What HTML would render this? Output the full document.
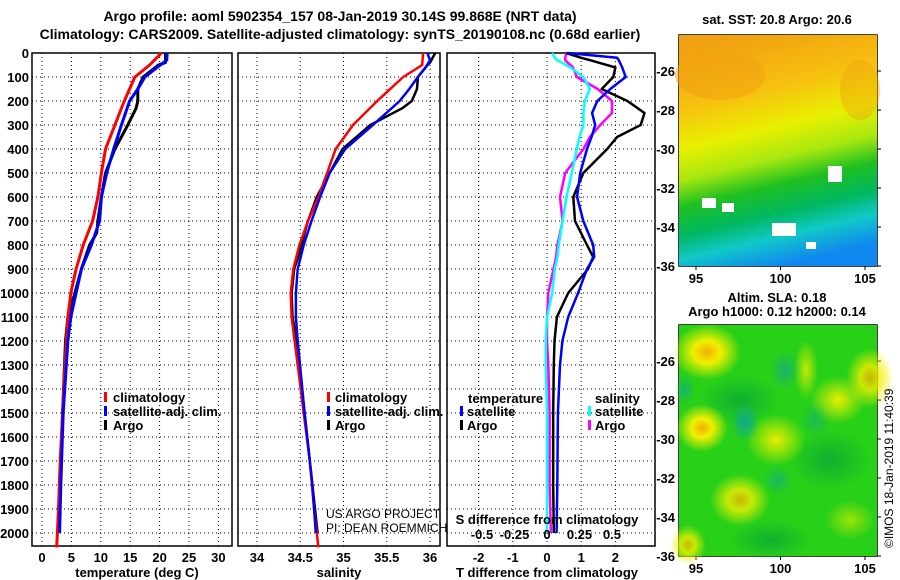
<!DOCTYPE html>
<html><head><meta charset="utf-8"><style>
html,body{margin:0;padding:0;background:#fff;}
svg{display:block;font-family:"Liberation Sans",sans-serif;}
.t{font-weight:bold;font-size:13px;fill:#000;}
.ti{font-weight:bold;font-size:14px;fill:#000;}
.g{stroke:#000;stroke-width:1;stroke-dasharray:1 3;fill:none;}
.fr{fill:none;stroke:#000;stroke-width:1.5;}
</style></head><body>
<svg id="chart" width="900" height="580" viewBox="0 0 900 580" xmlns="http://www.w3.org/2000/svg">
<defs>
<linearGradient id="sstg" x1="0.3" y1="0" x2="0.5" y2="1">
<stop offset="0" stop-color="#f0a010"/><stop offset="0.25" stop-color="#f8c010"/><stop offset="0.42" stop-color="#e8f000"/><stop offset="0.55" stop-color="#a8e810"/><stop offset="0.66" stop-color="#20c020"/><stop offset="0.78" stop-color="#00b860"/><stop offset="0.88" stop-color="#10c8c8"/><stop offset="1" stop-color="#1088f0"/>
</linearGradient>
<radialGradient id="yb"><stop offset="0" stop-color="#f0b000"/><stop offset="0.4" stop-color="#f0f000"/><stop offset="1" stop-color="#f0f000" stop-opacity="0"/></radialGradient>
<radialGradient id="yb2"><stop offset="0" stop-color="#e8f000"/><stop offset="1" stop-color="#e8f000" stop-opacity="0"/></radialGradient>
<radialGradient id="tb"><stop offset="0" stop-color="#10a890"/><stop offset="1" stop-color="#10a890" stop-opacity="0"/></radialGradient>
<radialGradient id="db"><stop offset="0" stop-color="#10b030"/><stop offset="1" stop-color="#10b030" stop-opacity="0"/></radialGradient>
</defs>
<text class="ti" x="340" y="21" text-anchor="middle">Argo profile: aoml 5902354_157 08-Jan-2019 30.14S 99.868E (NRT data)</text>
<text class="ti" x="340" y="39" text-anchor="middle">Climatology: CARS2009. Satellite-adjusted climatology: synTS_20190108.nc (0.68d earlier)</text>
<g id="grids"></g>
<g id="lines"></g>
<g id="labels"></g>
<g>
<rect x="104" y="392" width="3" height="10" fill="#f00"/><text class="t" x="113" y="402">climatology</text>
<rect x="104" y="406" width="3" height="10" fill="#00f"/><text class="t" x="113" y="416">satellite-adj. clim.</text>
<rect x="104" y="420" width="3" height="10" fill="#000"/><text class="t" x="113" y="430">Argo</text>
</g>
<g>
<rect x="327" y="392" width="3" height="10" fill="#f00"/><text class="t" x="335" y="402">climatology</text>
<rect x="327" y="406" width="3" height="10" fill="#00f"/><text class="t" x="335" y="416">satellite-adj. clim.</text>
<rect x="327" y="420" width="3" height="10" fill="#000"/><text class="t" x="335" y="430">Argo</text>
</g>
<text x="326" y="518" font-size="12" fill="#000">US ARGO PROJECT</text>
<text x="326" y="532" font-size="12" fill="#000">PI: DEAN ROEMMICH</text>
<g>
<text class="t" x="468" y="403">temperature</text>
<rect x="460" y="406" width="3" height="10" fill="#00f"/><text class="t" x="467" y="416">satellite</text>
<rect x="460" y="420" width="3" height="10" fill="#000"/><text class="t" x="467" y="430">Argo</text>
<text class="t" x="595" y="403">salinity</text>
<rect x="588" y="406" width="3" height="10" fill="#0ff"/><text class="t" x="595" y="416">satellite</text>
<rect x="588" y="420" width="3" height="10" fill="#f0f"/><text class="t" x="595" y="430">Argo</text>
</g>
<text class="t" x="547" y="524" text-anchor="middle">S difference from climatology</text>
<text class="t" x="777" y="24" text-anchor="middle">sat. SST: 20.8 Argo: 20.6</text>
<g>
<rect x="679" y="35" width="198" height="231" fill="url(#sstg)"/>
<ellipse cx="720" cy="75" rx="45" ry="25" fill="#f0a010" opacity="0.5"/>
<ellipse cx="860" cy="90" rx="20" ry="30" fill="#f0a010" opacity="0.4"/>
<rect x="702" y="198" width="14" height="10" fill="#fff"/><rect x="722" y="203" width="12" height="9" fill="#fff"/>
<rect x="772" y="223" width="24" height="13" fill="#fff"/><rect x="828" y="166" width="14" height="16" fill="#fff"/><rect x="806" y="242" width="10" height="7" fill="#fff"/>
</g>
<text class="t" x="777" y="302" text-anchor="middle">Altim. SLA: 0.18</text>
<text class="t" x="777" y="316" text-anchor="middle">Argo h1000: 0.12 h2000: 0.14</text>
<g>
<rect x="679" y="325" width="198" height="231" fill="#28d018"/>
<ellipse cx="740" cy="400" rx="40" ry="25" fill="url(#db)"/>
<ellipse cx="830" cy="460" rx="40" ry="30" fill="url(#db)"/>
<ellipse cx="770" cy="540" rx="40" ry="20" fill="url(#db)"/>
<ellipse cx="707" cy="352" rx="34" ry="28" fill="url(#yb)"/>
<ellipse cx="702" cy="428" rx="26" ry="24" fill="url(#yb)"/>
<ellipse cx="776" cy="440" rx="30" ry="26" fill="url(#yb2)"/>
<ellipse cx="740" cy="500" rx="30" ry="26" fill="url(#yb)" opacity="0.8"/>
<ellipse cx="838" cy="400" rx="28" ry="24" fill="url(#yb2)"/>
<ellipse cx="870" cy="378" rx="24" ry="30" fill="url(#yb)" opacity="0.8"/>
<ellipse cx="806" cy="370" rx="12" ry="30" fill="url(#yb2)" opacity="0.8"/>
<ellipse cx="688" cy="545" rx="18" ry="20" fill="url(#yb)" opacity="0.8"/>
<ellipse cx="850" cy="520" rx="25" ry="20" fill="url(#yb2)" opacity="0.6"/>
<ellipse cx="745" cy="422" rx="15" ry="20" fill="url(#tb)"/>
<ellipse cx="785" cy="370" rx="15" ry="20" fill="url(#tb)" opacity="0.7"/>
<ellipse cx="685" cy="390" rx="10" ry="15" fill="url(#tb)" opacity="0.7"/>
<ellipse cx="778" cy="480" rx="15" ry="15" fill="url(#tb)" opacity="0.6"/>
<ellipse cx="815" cy="420" rx="15" ry="18" fill="url(#tb)" opacity="0.5"/>
</g>
<text class="t" transform="translate(893,548) rotate(-90)" style="font-weight:normal;font-size:12px">©IMOS 18-Jan-2019 11:40:39</text>
</svg>
<script>
// ---- data ----
const depthClim = [0,50,100,200,300,400,500,600,700,800,900,1000,1100,1300,1500,1700,1900,2060];
const tempClim = [20.3,18.3,15.8,14.0,12.4,10.8,10.1,9.5,8.6,7.0,5.8,4.9,4.4,3.9,3.5,3.1,2.8,2.5];
const salClim = [35.92,35.91,35.69,35.39,35.11,34.91,34.81,34.71,34.59,34.49,34.42,34.39,34.40,34.47,34.54,34.61,34.66,34.71];
const depthSat = [0,30,60,100,150,200,300,400,500,600,700,800,900,1000,1100,1200,1500,1800,2000];
const tempSat = [21.3,21.2,19.6,17.5,16.3,14.9,13.5,12.2,11.0,10.1,9.8,8.4,6.7,5.8,4.9,4.4,3.6,3.2,3.0];
const salSat = [35.97,36.0,35.95,35.86,35.76,35.65,35.34,35.02,34.84,34.73,34.63,34.54,34.47,34.45,34.45,34.47,34.55,34.64,34.68];
const depthArgo = [0,40,50,100,150,200,230,300,400,500,600,700,750,800,900,1000,1100,1200,1500,1800,2000];
const tempArgo = [21.0,21.0,19.8,17.2,16.3,16.3,16.0,14.6,12.4,10.8,10.1,9.5,9.3,8.1,6.7,5.6,4.4,4.0,3.5,3.0,2.7];
const salArgo = [36.06,36.0,35.97,35.86,35.85,35.79,35.68,35.31,34.99,34.84,34.69,34.59,34.55,34.52,34.43,34.40,34.41,34.46,34.55,34.64,34.70];
const depthDiff = [0,20,30,60,100,150,200,250,300,350,400,500,600,700,800,850,900,1000,1100,1200,1300,1500,1800,2000];
const tDiffSat = [0.6,2.05,2.1,2.2,2.3,1.85,1.47,1.32,1.41,1.3,1.17,0.97,0.88,1.06,1.35,1.38,1.17,0.91,0.62,0.45,0.38,0.32,0.3,0.28];
const tDiffArgo = [0.56,1.0,1.26,2.0,1.94,1.6,2.35,2.85,2.74,2.05,1.76,1.06,0.77,0.82,1.17,1.35,1.2,0.62,0.29,0.22,0.2,0.18,0.18,0.2];
const sDiffSat = [0.04,0.06,0.08,0.18,0.28,0.33,0.29,0.28,0.28,0.25,0.23,0.19,0.15,0.12,0.09,0.08,0.06,0.04,0.0,-0.01,-0.01,0.0,0.0,0.0];
const sDiffArgo = [0.15,0.14,0.14,0.2,0.23,0.39,0.5,0.5,0.41,0.33,0.28,0.14,0.1,0.12,0.08,0.07,0.05,0.01,0.0,0.0,0.01,0.02,0.02,0.03];
const depthTicks = [0,100,200,300,400,500,600,700,800,900,1000,1100,1200,1300,1400,1500,1600,1700,1800,1900,2000];
const tempTicks = [0,5,10,15,20,25,30];
const salTicks = [34,34.5,35,35.5,36];
const salTickLabels = ["34","34.5","35","35.5","36"];
const tDiffTicks = [-2,-1,0,1,2];
const sDiffTicks = [-0.5,-0.25,0,0.25,0.5];
const sDiffTickLabels = ["-0.5","-0.25","0","0.25","0.5"];
const latTicks = [-26,-28,-30,-32,-34,-36];
const lonTicks = [95,100,105];

// ---- axes ----
const yTop=53, yBot=546;
const yD = d => yTop + 0.24*d;
const xT = t => 42 + 5.88*t;
const xS = s => 257 + 86.5*(s-34);
const xTd = t => 547 + 34.2*t;
const xSd = s => 547 + 130*s;
const panels=[{x0:32,x1:232,n:'temperature'},{x0:238,x1:440,n:'salinity'},{x0:447,x1:655,n:'difference'}];
const NS='http://www.w3.org/2000/svg';
function mk(tag,attrs,parent){const e=document.createElementNS(NS,tag);for(const k in attrs)e.setAttribute(k,attrs[k]);parent.appendChild(e);return e;}
const G=document.getElementById('grids'), L=document.getElementById('lines'), LB=document.getElementById('labels');
function vgrid(xs){xs.forEach(x=>{const l=mk('line',{x1:x,x2:x,y1:yTop,y2:yBot,class:'g'},G);

});}
panels.forEach(p=>{
  depthTicks.forEach(d=>{const l=mk('line',{x1:p.x0,x2:p.x1,y1:yD(d),y2:yD(d),class:'g'},G);
  
  });
  const r=mk('rect',{x:p.x0,y:yTop,width:p.x1-p.x0,height:yBot-yTop,class:'fr'},G);
  
  
});
vgrid(tempTicks.map(xT));vgrid(salTicks.map(xS));vgrid(tDiffTicks.map(xTd));
depthTicks.forEach(d=>{const t=mk('text',{x:29,y:yD(d)+5,class:'t','text-anchor':'end'},LB);t.textContent=d;

});
function xlabels(ticks,labels,fx,y,nm){ticks.forEach((v,i)=>{const t=mk('text',{x:fx(v),y:y,class:'t','text-anchor':'middle'},LB);t.textContent=labels?labels[i]:v;

});}
xlabels(tempTicks,null,xT,562,'temperature-tick-label');
xlabels(salTicks,salTickLabels,xS,562,'salinity-tick-label');
xlabels(tDiffTicks,null,xTd,562,'t-diff-tick-label');
xlabels(sDiffTicks,sDiffTickLabels,xSd,539,'s-diff-tick-label');
[[137,'temperature (deg C)','temperature-axis-title'],[339,'salinity','salinity-axis-title'],[547,'T difference from climatology','t-diff-axis-title']].forEach(a=>{
const t=mk('text',{x:a[0],y:577,class:'t','text-anchor':'middle'},LB);t.textContent=a[1];

});
function line(xs,ds,fx,col,w,nm){const d=xs.map((v,i)=>(i?'L':'M')+fx(v).toFixed(1)+','+yD(ds[i]).toFixed(1)).join('');
const p=mk('path',{d:d,fill:'none',stroke:col,'stroke-width':w,'stroke-linejoin':'round'},L);

}
line(tempArgo,depthArgo,xT,'#000',3,'temperature-argo-line');
line(tempClim,depthClim,xT,'#f00',3,'temperature-climatology-line');
line(tempSat,depthSat,xT,'#00f',3,'temperature-satellite-line');
line(salArgo,depthArgo,xS,'#000',2.5,'salinity-argo-line');
line(salClim,depthClim,xS,'#f00',2.5,'salinity-climatology-line');
line(salSat,depthSat,xS,'#00f',2.5,'salinity-satellite-line');
line(sDiffArgo,depthDiff,xSd,'#f0f',2.5,'s-diff-argo-line');
line(sDiffSat,depthDiff,xSd,'#0ff',2.5,'s-diff-satellite-line');
line(tDiffArgo,depthDiff,xTd,'#000',2.5,'t-diff-argo-line');
line(tDiffSat,depthDiff,xTd,'#00f',2.5,'t-diff-satellite-line');
[[35,266,'sst'],[325,556,'sla']].forEach(m=>{
  const r=mk('rect',{x:679,y:m[0],width:198,height:m[1]-m[0],class:'fr'},LB);
  
  
  const yLat = v => m[1]-(v+36)*((m[1]-m[0])/11.85);
  latTicks.forEach(v=>{const yp=yLat(v);
    const t=mk('text',{x:675,y:yp+5,class:'t','text-anchor':'end'},LB);t.textContent=v;
    
    
    mk('line',{x1:877,x2:881,y1:yp,y2:yp,stroke:'#000'},LB);});
  lonTicks.forEach(v=>{const x=696+(v-95)*16.9;
    const t=mk('text',{x:x,y:m[1]+17,class:'t','text-anchor':'middle'},LB);t.textContent=v;
    
    
    mk('line',{x1:x,x2:x,y1:m[1],y2:m[1]+4,stroke:'#000'},LB);});
});
</script>
</body></html>
